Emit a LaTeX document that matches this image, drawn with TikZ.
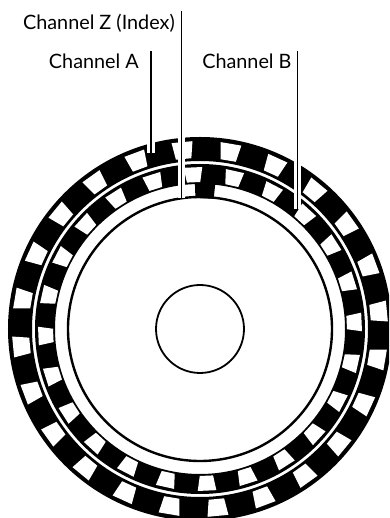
\documentclass[tikz,border=0pt]{standalone}
\usepackage{fontspec}
\setmainfont{Lato}

\begin{document}
\begin{tikzpicture}[x=1pt, y=1pt, every node/.style={font=\fontsize{19.8}{22}\selectfont, inner sep=0pt},
    track/.style={draw=black},
    leader/.style={draw=black, line width=1.2pt, preaction={draw=white, line width=7.5pt}}]
    \clip (-200,-189) rectangle (189,329);

    \coordinate (O) at (0,0);
    \draw[track, line width=24pt] (O) circle[radius=180];
    \draw[track, line width=20pt] (O) circle[radius=155];
    \draw[track, line width=2.4pt] (O) circle[radius=132];
    \draw[track, line width=1.8pt] (O) circle[radius=44];

    \foreach \k in {0,...,23} {
        \pgfmathsetmacro{\a}{5.5+15*\k}
        \pgfmathsetmacro{\b}{2.5+15*\k}
        \fill[white] ({\a-3.2}:188) -- ({\a+3.2}:188) -- ({\a+2.6}:171) -- ({\a-2.6}:171) -- cycle;
        \fill[white] ({\b-3.3}:162) -- ({\b+3.3}:162) -- ({\b+2.6}:147) -- ({\b-2.6}:147) -- cycle;
    }
    \fill[black] (84:131) -- (84:146) -- (92:146) -- (92:131) -- cycle;

    \node[anchor=base east] (labelZ) at (-25,299) {Channel Z (Index)};
    \node[anchor=base east] (labelA) at (-61,260) {Channel A};
    \node[anchor=base east] (labelB) at (91.7,260) {Channel B};

    \coordinate (topZ) at (-18.3,318);
    \coordinate (endZ) at (-18.3,131);
    \coordinate (topA) at (-49,278);
    \coordinate (endA) at (-49,176);
    \coordinate (topB) at (97.7,278);
    \coordinate (endB) at (97.7,120);

    \draw[leader] (topZ) -- (endZ);
    \draw[leader, preaction={line cap=round}] (topA) -- (endA);
    \draw[leader, preaction={line cap=round}] (topB) -- (endB);
\end{tikzpicture}
\end{document}
